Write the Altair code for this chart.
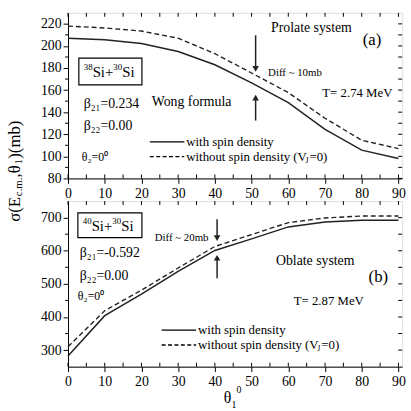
import altair as alt
import pandas as pd

# ---- data -----------------------------------------------------------------
theta1 = [0, 10, 20, 30, 40, 50, 60, 70, 80, 90]

# (a) 38Si + 30Si, prolate, T = 2.74 MeV
prolate_spin = [207, 205.6, 202.3, 195, 183, 166.6, 148.7, 124.4, 105.6, 98]
prolate_nospin = [218, 216.3, 213.5, 207, 193, 175.5, 157.7, 134.5, 114.6, 107]

# (b) 40Si + 30Si, oblate, T = 2.87 MeV
oblate_spin = [282, 404, 469, 538, 601, 636, 672, 687, 692, 692]
oblate_nospin = [310, 419, 481, 548, 613, 649, 685, 699, 705, 705]

x_major = [0, 10, 20, 30, 40, 50, 60, 70, 80, 90]
x_minor = [0, 5, 10, 15, 20, 25, 30, 35, 40, 45, 50, 55, 60, 65, 70, 75, 80, 85, 90]

top_y_major = [80, 100, 120, 140, 160, 180, 200, 220]
top_y_minor = [90, 110, 130, 150, 170, 190, 210]
bot_y_major = [300, 400, 500, 600, 700]
bot_y_minor = [350, 450, 550, 650]

# arrow annotations: x position, (shaft end, head) for the down and up arrows
top_arrow_x = 51.1
top_arrow_down = [209.7, 179.2]
top_arrow_up = [132.4, 153.2]
bot_arrow_x = 40.6
bot_arrow_down = [695.5, 638.4]
bot_arrow_up = [517.0, 578.9]

FONT = "Liberation Serif"
W, H = 339, 168
INK = "#222222"

AXIS_STYLE = dict(
    grid=False, labelFont=FONT, labelFontSize=14, labelColor="black",
    tickSize=5, tickColor="black", domainColor="black", labelOverlap=False,
    format="d", title=None,
)

x_scale = alt.Scale(domain=[0, 91], nice=False, zero=False)
x_axis = alt.Axis(values=x_major, labelPadding=3, labelFlush=False, **AXIS_STYLE)


def label(text, x, y, size=14, align="left", angle=None, baseline="middle"):
    kw = dict(font=FONT, fontSize=size, align=align, baseline=baseline, color="black")
    if angle is not None:
        kw["angle"] = angle
    return alt.Chart(pd.DataFrame({"t": [text]})).mark_text(**kw).encode(
        text="t:N", x=alt.value(x), y=alt.value(y)
    )


def box(x1, x2, y1, y2):
    return alt.Chart(pd.DataFrame({"b": [0]})).mark_rect(
        filled=False, stroke="black", strokeWidth=1.2
    ).encode(x=alt.value(x1), x2=alt.value(x2), y=alt.value(y1), y2=alt.value(y2))


def legend_line(x1, x2, y, dash=None):
    kw = dict(color="black", strokeWidth=1.3)
    if dash:
        kw["strokeDash"] = dash
    return alt.Chart(pd.DataFrame({"b": [0]})).mark_rule(**kw).encode(
        x=alt.value(x1), x2=alt.value(x2), y=alt.value(y)
    )


def nucleus_pair(a1, a2, x0, y0):
    # "^{a1}Si+^{a2}Si" with raised mass numbers
    return [
        label(a1, x0, y0 - 5, 9),
        label("Si+", x0 + 9, y0, 15),
        label(a2, x0 + 30, y0 - 5, 9),
        label("Si", x0 + 39, y0, 15),
    ]


def panel(spin, nospin, y_dom, y_major, y_minor, ax, a_down, a_up, annotations):
    y_scale = alt.Scale(domain=y_dom, nice=False, zero=False)
    y_axis = alt.Axis(values=y_major, labelPadding=2, **AXIS_STYLE)
    df = pd.DataFrame({"theta": theta1, "spin": spin, "nospin": nospin})

    def X(field):
        return alt.X(field, scale=x_scale, axis=x_axis)

    def Y(field):
        return alt.Y(field, scale=y_scale, axis=y_axis)

    solid = alt.Chart(df).mark_line(color=INK, strokeWidth=1.5).encode(
        x=X("theta:Q"), y=Y("spin:Q"))
    dashed = alt.Chart(df).mark_line(color=INK, strokeWidth=1.4, strokeDash=[5, 3]).encode(
        x=X("theta:Q"), y=Y("nospin:Q"))

    # small ticks along the frame
    xm = pd.DataFrame({"v": x_minor})
    tick_bottom = alt.Chart(xm).mark_rule(color="black").encode(
        x=X("v:Q"), y=alt.value(H), y2=alt.value(H - 4))
    tick_top = alt.Chart(xm).mark_rule(color="black").encode(
        x=X("v:Q"), y=alt.value(0), y2=alt.value(4))
    ym = pd.DataFrame({"v": y_minor})
    tick_left = alt.Chart(ym).mark_rule(color="black").encode(
        y=Y("v:Q"), x=alt.value(-3), x2=alt.value(0))
    yall = pd.DataFrame({"v": y_major + y_minor})
    tick_right = alt.Chart(yall).mark_rule(color="black").encode(
        y=Y("v:Q"), x=alt.value(W), x2=alt.value(W - 4))

    # "Diff" arrows
    arr = pd.DataFrame({
        "x": [ax, ax], "y1": [a_down[0], a_up[0]], "y2": [a_down[1], a_up[1]],
        "shape": ["triangle-down", "triangle-up"],
    })
    shafts = alt.Chart(arr).mark_rule(color=INK, strokeWidth=1.5).encode(
        x=X("x:Q"), y=Y("y1:Q"), y2="y2:Q")
    heads = alt.Chart(arr).mark_point(filled=True, color=INK, size=45, opacity=1).encode(
        x=X("x:Q"), y=Y("y2:Q"),
        shape=alt.Shape("shape:N", scale=None, legend=None))

    layers = [solid, dashed, tick_bottom, tick_top, tick_left, tick_right, shafts, heads]
    layers += annotations
    return alt.layer(*layers).properties(width=W, height=H)


def legend(x0, y0, size=13):
    # solid and dashed key with the V_J subscript set in a smaller size
    return [
        legend_line(x0 - 37, x0 - 2, y0),
        legend_line(x0 - 37, x0 - 2, y0 + 15, dash=[4, 2.5]),
        label("with spin density", x0, y0, size),
        label("without spin density (V", x0, y0 + 15, size),
        label("J", x0 + 121, y0 + 19, 8),
        label("=0)", x0 + 125, y0 + 15, size),
    ]


top_notes = [
    label("Prolate system", 206, 15, 14),
    label("(a)", 299, 28, 17),
    label("Diff ~ 10mb", 203, 61, 11),
    label("T= 2.74 MeV", 258, 81, 13),
    label("Wong formula", 85, 91, 14),
    box(11, 75, 46, 73),
    label("β₂₁=0.234", 16, 93, 14),
    label("β₂₂=0.00", 16, 115, 14),
    label("θ₂=0⁰", 14, 146, 12),
    # y-axis title, written bottom to top
    label("σ(E", -54, 212, 17, angle=270),
    label("c.m.", -50, 186, 11, angle=270),
    label(",θ", -54, 167, 17, angle=270),
    label("1", -50, 154, 11, angle=270),
    label(")(mb)", -54, 148, 17, angle=270),
] + nucleus_pair("38", "30", 16, 60) + legend(120, 131)

bottom_notes = [
    box(10, 75, 12, 37),
    label("β₂₁=-0.592", 12, 53, 14),
    label("β₂₂=0.00", 12, 76, 14),
    label("θ₂=0⁰", 10, 96, 12),
    label("Diff ~ 20mb", 88, 38, 11),
    label("Oblate system", 211, 61, 14),
    label("(b)", 305, 77, 17),
    label("T= 2.87 MeV", 229, 101, 13),
    # x-axis title
    label("θ", 158, 200, 16),
    label("1", 166, 207, 10),
    label("0", 171, 192, 10),
] + nucleus_pair("40", "30", 15, 25) + legend(132, 131)

top = panel(prolate_spin, prolate_nospin, [80, 230], top_y_major, top_y_minor,
            top_arrow_x, top_arrow_down, top_arrow_up, top_notes)
bottom = panel(oblate_spin, oblate_nospin, [250, 750], bot_y_major, bot_y_minor,
               bot_arrow_x, bot_arrow_down, bot_arrow_up, bottom_notes)

chart = (
    alt.vconcat(top, bottom, spacing=23, bounds="flush")
    .properties(padding={"left": 5, "top": 9, "right": 5, "bottom": 0})
    .configure_view(stroke="black", strokeWidth=1.2)
    .configure(background="white")
)

chart.save("out.html", embed_options={"renderer": "svg", "actions": False})
